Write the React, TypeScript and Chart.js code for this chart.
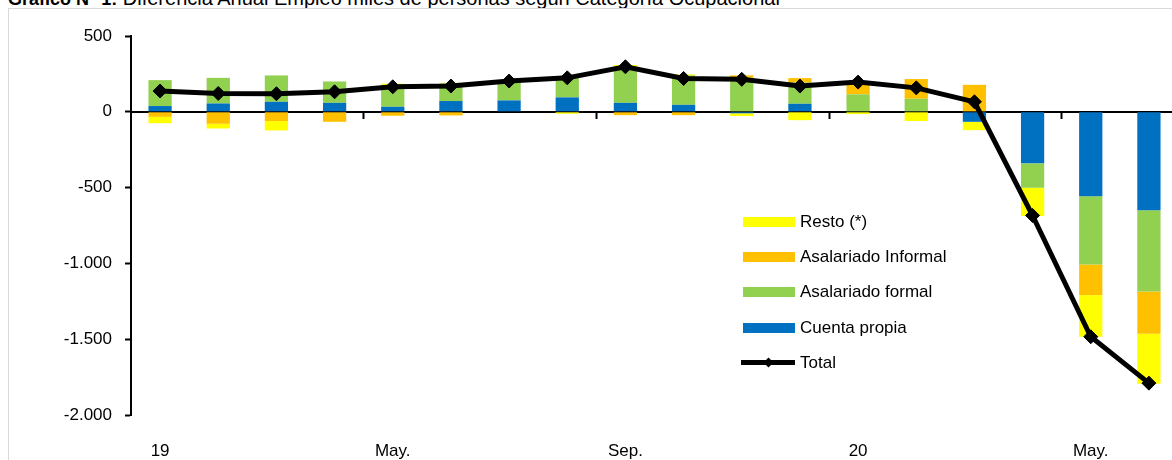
import React, { useEffect, useRef } from "react";
import { Chart, registerables } from "chart.js";

Chart.register(...registerables);

const categories = [
  "Ene.19", "Feb.19", "Mar.19", "Abr.19", "May.19", "Jun.19", "Jul.19", "Ago.19", "Sep.19",
  "Oct.19", "Nov.19", "Dic.19", "Ene.20", "Feb.20", "Mar.20", "Abr.20", "May.20", "Jun.20",
];
const tickLabels = ["19", "", "", "", "May.", "", "", "", "Sep.", "", "", "", "20", "", "", "", "May.", ""];

const cuentaPropia = [38, 55, 66, 59, 33, 71, 75, 95, 59, 46, -10, 53, -3, 0, -66, -340, -557, -650];
const asalariadoFormal = [171, 169, 174, 141, 143, 116, 116, 129, 236, 194, 224, 141, 115, 86, 0, -161, -450, -535];
const asalariadoInformal = [-33, -79, -61, -66, -26, -24, 0, 0, -22, -22, 16, 28, 76, 130, 178, 0, -202, -279];
const resto = [-42, -31, -62, 0, 9, 4, 12, -13, 13, 7, -18, -55, -12, -61, -55, -187, -275, -330];
const total = [137, 121, 119, 132, 165, 170, 203, 224, 297, 220, 214, 170, 196, 158, 66, -684, -1484, -1790];

const yMin = -2000;
const yMax = 500;
const yStep = 500;

const legendItems = [
  { label: "Resto (*)", color: "#FFFF00" },
  { label: "Asalariado Informal", color: "#FFC000" },
  { label: "Asalariado formal", color: "#92D050" },
  { label: "Cuenta propia", color: "#0070C0" },
];

const FONT = '"Liberation Sans", Arial, sans-serif';

function fmt(v: number): string {
  const s = String(Math.abs(v)).replace(/\B(?=(\d{3})+(?!\d))/g, ".");
  return (v < 0 ? "-" : "") + s;
}

export default function App() {
  const ref = useRef<HTMLCanvasElement | null>(null);

  useEffect(() => {
    if (!ref.current) return;
    Chart.defaults.font.family = FONT;
    Chart.defaults.font.size = 17;
    Chart.defaults.color = "#000";
    const chart = new Chart(ref.current, {
      type: "bar",
      data: {
        labels: categories,
        datasets: [
          {
            type: "line",
            label: "Total",
            data: total,
            borderColor: "#000",
            backgroundColor: "#000",
            borderWidth: 5,
            pointStyle: "rectRot",
            pointRadius: 7,
            pointBorderWidth: 1,
            pointBackgroundColor: "#000",
            pointBorderColor: "#000",
            stack: "total",
            tension: 0,
          } as any,
          { label: "Cuenta propia", data: cuentaPropia, backgroundColor: "#0070C0", stack: "s" },
          { label: "Asalariado formal", data: asalariadoFormal, backgroundColor: "#92D050", stack: "s" },
          { label: "Asalariado Informal", data: asalariadoInformal, backgroundColor: "#FFC000", stack: "s" },
          { label: "Resto (*)", data: resto, backgroundColor: "#FFFF00", stack: "s" },
        ],
      },
      options: {
        responsive: false,
        animation: false,
        devicePixelRatio: 1,
        layout: { padding: { top: 36, left: 0, right: 0, bottom: 0 } },
        datasets: { bar: { categoryPercentage: 1, barPercentage: 0.4 } } as any,
        plugins: { legend: { display: false }, tooltip: { enabled: false }, title: { display: false } },
        scales: {
          x: {
            type: "category",
            stacked: true,
            offset: true,
            grid: { display: false, drawTicks: false },
            border: { display: false },
            ticks: {
              autoSkip: false,
              maxRotation: 0,
              minRotation: 0,
              padding: 26,
              color: "#000",
              font: { size: 17, family: FONT },
              callback: (_v: any, i: number) => tickLabels[i],
            },
            afterFit: (s: any) => {
              s.height = 45;
            },
          },
          x2: {
            type: "category",
            axis: "x",
            position: { y: 0 },
            offset: true,
            grid: {
              display: true,
              offset: true,
              drawOnChartArea: false,
              drawTicks: true,
              tickLength: 6,
              tickWidth: 2,
              tickColor: (ctx: any) => (ctx.index > 0 && ctx.index % 4 === 0 ? "#000" : "rgba(0,0,0,0)"),
            },
            border: { display: true, color: "#000", width: 2 },
            ticks: { display: false },
          } as any,
          y: {
            stacked: true,
            min: yMin,
            max: yMax,
            grid: {
              display: true,
              drawOnChartArea: false,
              drawTicks: true,
              tickLength: 6,
              tickWidth: 2,
              tickColor: "#000",
            },
            border: { display: true, color: "#000", width: 2 },
            ticks: {
              stepSize: yStep,
              padding: 13,
              color: "#000",
              font: { size: 17, family: FONT },
              callback: (v: any) => fmt(Number(v)),
            },
            afterFit: (s: any) => {
              s.width = 131;
            },
          },
        },
      },
    });
    return () => chart.destroy();
  }, []);

  return (
    <div
      style={{
        position: "fixed",
        left: 0,
        top: 0,
        width: 1172,
        height: 460,
        overflow: "hidden",
        background: "#fff",
        fontFamily: FONT,
      }}
    >
      <div
        style={{
          position: "absolute",
          left: 8,
          top: -13,
          fontSize: 20,
          whiteSpace: "nowrap",
          color: "#000",
        }}
      >
        <b style={{ fontSize: 18 }}>Gráfico N° 1:</b> Diferencia Anual Empleo miles de personas según Categoría Ocupacional
      </div>
      <div
        style={{
          position: "absolute",
          left: 8,
          top: 8,
          width: 1200,
          height: 500,
          border: "1px solid #d9d9d9",
        }}
      />
      <canvas
        ref={ref}
        width={1186}
        height={460}
        style={{ position: "absolute", left: 0, top: 0, width: 1186, height: 460 }}
      />
      <div style={{ position: "absolute", left: 741, top: 204 }}>
        {legendItems.map((it) => (
          <div key={it.label} style={{ display: "flex", alignItems: "center", height: 35.3 }}>
            <div style={{ width: 52, height: 10, background: it.color, marginLeft: 2, marginRight: 5 }} />
            <span style={{ fontSize: 17, color: "#000" }}>{it.label}</span>
          </div>
        ))}
        <div style={{ display: "flex", alignItems: "center", height: 35.3 }}>
          <div style={{ position: "relative", width: 54, height: 5, background: "#000", marginRight: 5 }}>
            <div
              style={{
                position: "absolute",
                left: 24,
                top: -1,
                width: 7,
                height: 7,
                background: "#000",
                transform: "rotate(45deg)",
              }}
            />
          </div>
          <span style={{ fontSize: 17, color: "#000" }}>Total</span>
        </div>
      </div>
    </div>
  );
}
